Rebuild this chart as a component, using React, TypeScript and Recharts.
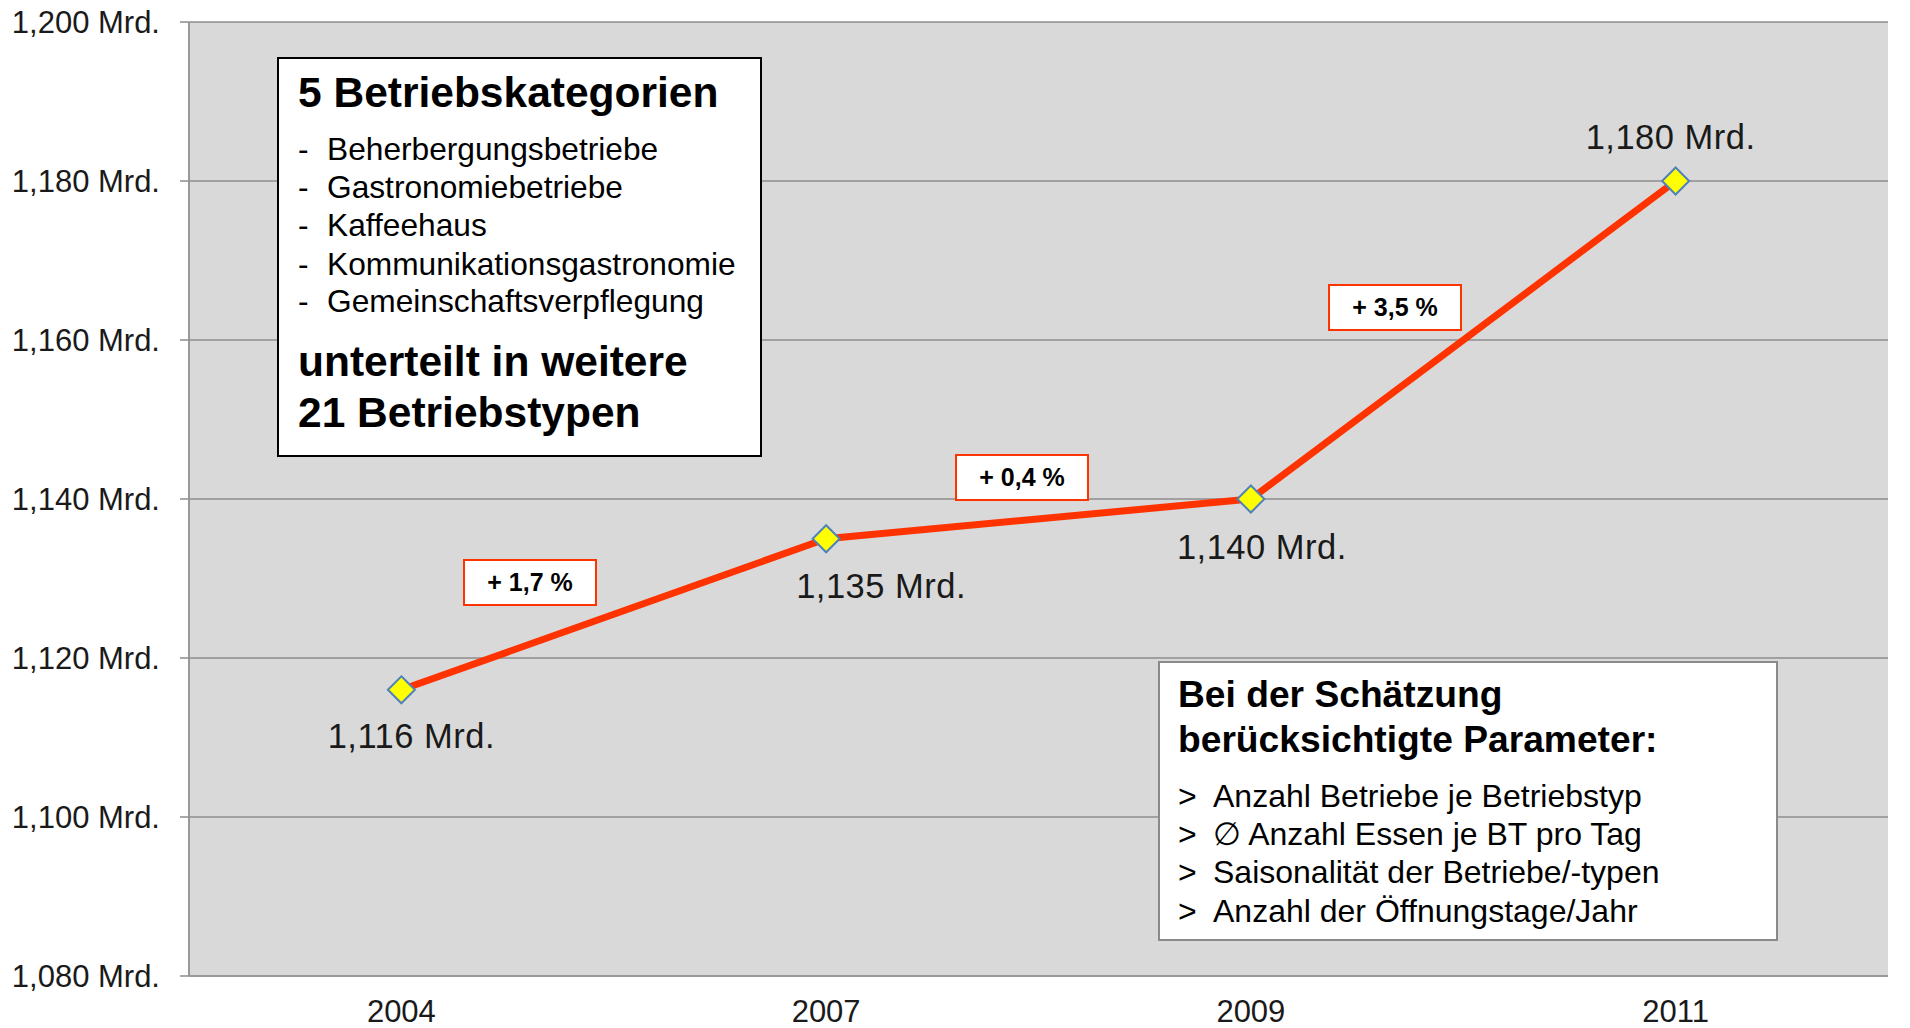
import React from 'react';
import { LineChart, Line, XAxis, YAxis, CartesianGrid, LabelList } from 'recharts';

const years = ['2004', '2007', '2009', '2011'];
const revenue = [1116, 1135, 1140, 1180];
const yTicks = [1080, 1100, 1120, 1140, 1160, 1180, 1200];
const edgeTicks = [0, 1, 2, 3, 4];
const growthLabels = ['+ 1,7 %', '+ 0,4 %', '+ 3,5 %'];
const categoryTitle = '5 Betriebskategorien';
const categories = [
  'Beherbergungsbetriebe',
  'Gastronomiebetriebe',
  'Kaffeehaus',
  'Kommunikationsgastronomie',
  'Gemeinschaftsverpflegung',
];
const categoryFooter = ['unterteilt in weitere', '21 Betriebstypen'];
const paramTitle = ['Bei der Schätzung', 'berücksichtigte Parameter:'];
const parameters = [
  'Anzahl Betriebe je Betriebstyp',
  '\u2205 Anzahl Essen je BT pro Tag',
  'Saisonalität der Betriebe/-typen',
  'Anzahl der Öffnungstage/Jahr',
];

const data = years.map((year, i) => ({ year, value: revenue[i] }));

const FONT = '"Liberation Sans", Arial, Helvetica, sans-serif';
const fmt = (v: number) => `${v.toLocaleString('en-US')} Mrd.`;

const labelShift = [
  { dx: 10, dy: 46 },
  { dx: 55, dy: 47 },
  { dx: 11, dy: 48 },
  { dx: -5, dy: -44 },
];

const Diamond = (props: any) => {
  const { cx, cy } = props;
  if (cx == null || cy == null) return null;
  const r = 13.5;
  return (
    <path
      d={`M${cx},${cy - r} L${cx + r},${cy} L${cx},${cy + r} L${cx - r},${cy} Z`}
      fill="#ffff00"
      stroke="#4f81bd"
      strokeWidth={2}
    />
  );
};

const ValueLabel = (props: any) => {
  const { x, y, value, index } = props;
  const s = labelShift[index] || { dx: 0, dy: 40 };
  const fs = 34.5;
  return (
    <text
      x={x + s.dx}
      y={y + s.dy + fs * 0.358}
      textAnchor="middle"
      fontSize={fs}
      fontFamily={FONT}
      fill="#1a1a1a"
      letterSpacing={0.5}
    >
      {fmt(value)}
    </text>
  );
};

const TextLine = ({ x, baseline, size, bold, children }: any) => (
  <div
    style={{
      position: 'absolute',
      left: x,
      top: baseline - 0.8465 * size,
      fontSize: size,
      lineHeight: `${size}px`,
      fontWeight: bold ? 700 : 400,
      whiteSpace: 'nowrap',
      color: '#000',
      fontFamily: FONT,
    }}
  >
    {children}
  </div>
);

const growthBoxes = [
  { left: 463, top: 559 },
  { left: 955, top: 454 },
  { left: 1328, top: 284 },
];

export default function App() {
  const catBaselines = [161, 199, 237, 275.5, 313];
  const paramBaselines = [807, 845, 883, 922];
  return (
    <div
      style={{
        position: 'absolute',
        left: 0,
        top: 0,
        width: 1910,
        height: 1028,
        background: '#ffffff',
        fontFamily: FONT,
        overflow: 'hidden',
      }}
    >
      <LineChart
        width={1910}
        height={1028}
        data={data}
        margin={{ top: 22, right: 22, bottom: 0, left: 0 }}
      >
        <CartesianGrid
          xAxisId="main"
          vertical={false}
          stroke="#8c8c8c"
          strokeWidth={1.5}
          fill="#d9d9d9"
        />
        <XAxis
          xAxisId="edge"
          type="number"
          domain={[0, 4]}
          ticks={edgeTicks}
          allowDataOverflow
          tick={false}
          tickSize={10}
          height={1}
          axisLine={{ stroke: '#999999', strokeWidth: 2 }}
          tickLine={{ stroke: '#999999', strokeWidth: 1.5 }}
        />
        <XAxis
          xAxisId="main"
          dataKey="year"
          scale="band"
          height={51}
          tickSize={0}
          tickMargin={23}
          axisLine={false}
          tickLine={false}
          tick={{ fontSize: 31, fill: '#1a1a1a', fontFamily: FONT }}
        />
        <YAxis
          domain={[1080, 1200]}
          ticks={yTicks}
          width={189}
          tickSize={9}
          tickMargin={20}
          tickFormatter={fmt}
          axisLine={{ stroke: '#999999', strokeWidth: 2 }}
          tickLine={{ stroke: '#8c8c8c', strokeWidth: 1.5 }}
          tick={{ fontSize: 31, fill: '#1a1a1a', fontFamily: FONT }}
        />
        <Line
          xAxisId="main"
          dataKey="value"
          stroke="#ff3300"
          strokeWidth={7}
          strokeLinejoin="round"
          dot={<Diamond />}
          activeDot={false}
          isAnimationActive={false}
        >
          <LabelList dataKey="value" content={<ValueLabel />} />
        </Line>
      </LineChart>

      {/* Category box */}
      <div
        style={{
          position: 'absolute',
          left: 277,
          top: 57,
          width: 485,
          height: 400,
          boxSizing: 'border-box',
          border: '2.5px solid #000',
          background: '#fff',
        }}
      />
      <TextLine x={298} baseline={108} size={42.5} bold>
        {categoryTitle}
      </TextLine>
      {categories.map((c, i) => (
        <React.Fragment key={c}>
          <TextLine x={298} baseline={catBaselines[i]} size={31.7}>
            -
          </TextLine>
          <TextLine x={327} baseline={catBaselines[i]} size={31.7}>
            {c}
          </TextLine>
        </React.Fragment>
      ))}
      <TextLine x={298} baseline={376.7} size={42.5} bold>
        {categoryFooter[0]}
      </TextLine>
      <TextLine x={298} baseline={428.3} size={42.5} bold>
        {categoryFooter[1]}
      </TextLine>

      {/* Parameter box */}
      <div
        style={{
          position: 'absolute',
          left: 1158,
          top: 661,
          width: 620,
          height: 280,
          boxSizing: 'border-box',
          border: '2px solid #8a8a8a',
          background: '#fff',
        }}
      />
      <TextLine x={1178} baseline={707} size={37.2} bold>
        {paramTitle[0]}
      </TextLine>
      <TextLine x={1178} baseline={752} size={37.2} bold>
        {paramTitle[1]}
      </TextLine>
      {parameters.map((p, i) => (
        <React.Fragment key={p}>
          <TextLine x={1178} baseline={paramBaselines[i]} size={32}>
            {'>'}
          </TextLine>
          <TextLine x={1213} baseline={paramBaselines[i]} size={32}>
            {p}
          </TextLine>
        </React.Fragment>
      ))}

      {/* Growth boxes */}
      {growthLabels.map((g, i) => (
        <div
          key={g}
          style={{
            position: 'absolute',
            left: growthBoxes[i].left,
            top: growthBoxes[i].top,
            width: 134,
            height: 47,
            boxSizing: 'border-box',
            border: '2px solid #ff3300',
            background: '#fff',
            display: 'flex',
            alignItems: 'center',
            justifyContent: 'center',
            fontWeight: 700,
            fontSize: 25,
            color: '#000',
            fontFamily: FONT,
            whiteSpace: 'nowrap',
          }}
        >
          {g}
        </div>
      ))}
    </div>
  );
}
